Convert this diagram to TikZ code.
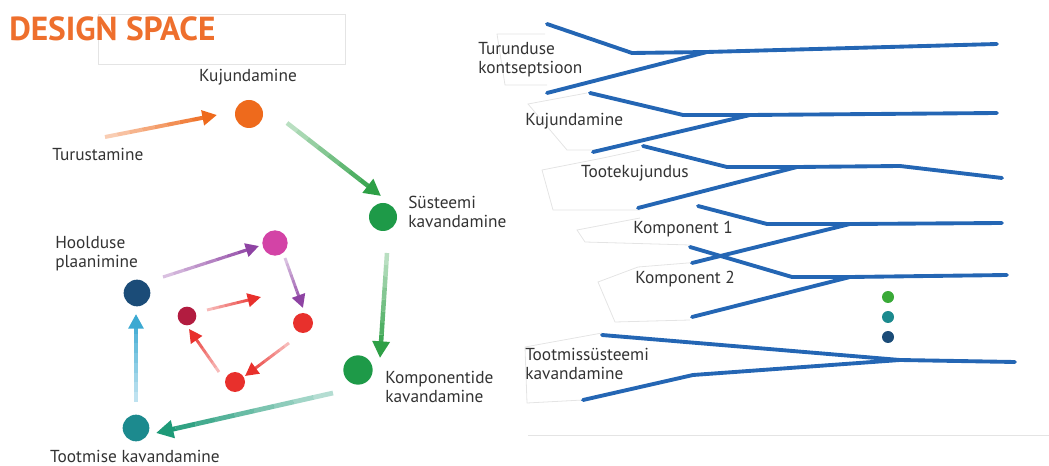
\documentclass[tikz,border=0pt]{standalone}
\usepackage{fontspec}
\setmainfont{PT Sans}
\usetikzlibrary{calc,arrows.meta}
\definecolor{txt}{HTML}{333333}
\definecolor{ttl}{HTML}{EE6F2D}
\definecolor{cOrange}{HTML}{EE6A1C}
\definecolor{cGreen}{HTML}{1E9A48}
\definecolor{aGreen}{HTML}{2EA046}
\definecolor{cTeal}{HTML}{1C8A8E}
\definecolor{aTeal}{HTML}{1E9A78}
\definecolor{aCyan}{HTML}{3BA9D2}
\definecolor{cNavy}{HTML}{1B4C78}
\definecolor{cMag}{HTML}{D343A6}
\definecolor{aPurp}{HTML}{8E43A3}
\definecolor{cRed}{HTML}{E8302C}
\definecolor{cDRed}{HTML}{B21C40}
\definecolor{lBlue}{HTML}{2466B4}
\definecolor{dGreen}{HTML}{3AAA38}
\definecolor{faint}{HTML}{E4E4E4}
\newcommand\fadearrow[5]{%
  \foreach \i in {0,...,7}{%
    \pgfmathsetmacro\sa{\i/9}\pgfmathsetmacro\sb{(\i+1)/9}\pgfmathsetmacro\op{0.25+0.75*(\i+1)/9}%
    \draw[#1, line width=#4, opacity=\op] ($(#2)!\sa!(#3)$) -- ($(#2)!\sb!(#3)$);
  }%
  \pgfmathsetmacro\sa{8/9}%
  \draw[#1, line width=#4, -{Triangle[length=#5,width=#5]}] ($(#2)!\sa!(#3)$) -- (#3);
}
\tikzset{
  lbl/.style={text=txt, font=\fontsize{13}{14.5}\selectfont, inner sep=0pt, align=left},
  ball/.style={circle, fill=#1, inner sep=0pt},
  branch/.style={lBlue, line width=2.9pt, line cap=round, line join=round},
  ghost/.style={faint, line width=0.6pt},
}
\begin{document}
\begin{tikzpicture}[x=0.75pt,y=-0.75pt]
\useasboundingbox (0,0) rectangle (1049,466);
% faint frames
\draw[ghost] (98,14) rectangle (345,64);
\draw[ghost] (528,435) -- (1049,435);
\draw[ghost] (545,34) -- (497,34) -- (505,85) -- (547,85);
\draw[ghost] (587,93) -- (528,104) -- (567,150) -- (600,150);
\draw[ghost] (640,150) -- (603,158) -- (542,170) -- (553,210) -- (640,210);
\draw[ghost] (640,218) -- (577,230) -- (585,242) -- (690,245);
\draw[ghost] (700,262) -- (638,267) -- (598,282) -- (615,322) -- (690,320);
\draw[ghost] (602,333) -- (525,347) -- (527,403) -- (583,400);

% title
\node[text=ttl, font=\fontsize{25}{27}\selectfont\bfseries, anchor=west, inner sep=0pt] (title) at (9,29) {DESIGN SPACE};

% ---- left cycle ----
\node[ball=cOrange, minimum size=21pt] (kuj) at (249,114) {};
\node[ball=cGreen, minimum size=21pt] (sys) at (383,217) {};
\node[ball=cGreen, minimum size=22pt] (komp) at (358,370) {};
\node[ball=cTeal, minimum size=20pt] (toot) at (136,428) {};
\node[ball=cNavy, minimum size=20pt] (hool) at (137,293) {};
\node[ball=cMag, minimum size=19pt] (mag) at (275,243) {};
\node[ball=cRed, minimum size=15pt] (r1) at (303,323) {};
\node[ball=cRed, minimum size=15pt] (r2) at (235,382) {};
\node[ball=cDRed, minimum size=14pt] (r3) at (187,316) {};

\node[lbl] (lkuj) at (248,77) {Kujundamine};
\node[lbl, anchor=west] (ltur) at (52,154) {Turustamine};
\node[lbl, anchor=west] (lsys) at (408,212) {Süsteemi\\kavandamine};
\node[lbl, anchor=west] (lkomp) at (385,387) {Komponentide\\kavandamine};
\node[lbl] (ltoot) at (135,456) {Tootmise kavandamine};
\node[lbl, anchor=west] (lhool) at (55,254) {Hoolduse\\plaanimine};

\coordinate (a1s) at (105,137); \coordinate (a1e) at (217,115);
\coordinate (a2s) at (287,123); \coordinate (a2e) at (381,196);
\coordinate (a3s) at (387,253); \coordinate (a3e) at (380,358);
\coordinate (a4s) at (333,393); \coordinate (a4e) at (156,433);
\coordinate (a5s) at (136,402); \coordinate (a5e) at (136,314);
\coordinate (a6s) at (163,277); \coordinate (a6e) at (259,246);
\coordinate (a7s) at (285,258); \coordinate (a7e) at (303,308);
\coordinate (a8s) at (289,343); \coordinate (a8e) at (245,376);
\coordinate (a9s) at (219,372); \coordinate (a9e) at (189,329);
\coordinate (a10s) at (207,310); \coordinate (a10e) at (261,297);

\fadearrow{cOrange}{a1s}{a1e}{3pt}{11pt}
\fadearrow{aGreen}{a2s}{a2e}{3.4pt}{12.5pt}
\fadearrow{aGreen}{a3s}{a3e}{3.4pt}{12.5pt}
\fadearrow{aTeal}{a4s}{a4e}{3.6pt}{13pt}
\fadearrow{aCyan}{a5s}{a5e}{2.8pt}{11pt}
\fadearrow{aPurp}{a6s}{a6e}{2.4pt}{10pt}
\fadearrow{aPurp}{a7s}{a7e}{2.2pt}{10pt}
\fadearrow{cRed}{a8s}{a8e}{2.2pt}{10pt}
\fadearrow{cRed}{a9s}{a9e}{2.2pt}{10pt}
\fadearrow{cRed}{a10s}{a10e}{2.2pt}{10pt}

% ---- right: branching lines ----
\coordinate (g1a) at (547,24); \coordinate (g1b) at (632,53); \coordinate (g1m) at (707,52); \coordinate (g1e) at (997,44); \coordinate (g1c) at (547,93);
\draw[branch] (g1a) -- (g1b) -- (g1m) -- (g1e);
\draw[branch] (g1c) -- (g1m);
\coordinate (g2a) at (590,93); \coordinate (g2b) at (683,115); \coordinate (g2m) at (750,115); \coordinate (g2e) at (997,113); \coordinate (g2c) at (593,152);
\draw[branch] (g2a) -- (g2b) -- (g2m) -- (g2e);
\draw[branch] (g2c) -- (g2m);
\coordinate (g3a) at (643,146); \coordinate (g3b) at (727,167); \coordinate (g3m) at (797,167); \coordinate (g3k) at (900,166); \coordinate (g3e) at (1002,178); \coordinate (g3c) at (638,208);
\draw[branch] (g3a) -- (g3b) -- (g3m) -- (g3k) -- (g3e);
\draw[branch] (g3c) -- (g3m);
\coordinate (g4a) at (698,206); \coordinate (g4b) at (767,224); \coordinate (g4m) at (850,224); \coordinate (g4e) at (1002,223); \coordinate (g4c) at (692,263);
\draw[branch] (g4a) -- (g4b) -- (g4m) -- (g4e);
\draw[branch] (g4c) -- (g4m);
\coordinate (g5a) at (690,247); \coordinate (g5b) at (792,277); \coordinate (g5m) at (850,277); \coordinate (g5e) at (1007,275); \coordinate (g5c) at (692,317);
\draw[branch] (g5a) -- (g5b) -- (g5m) -- (g5e);
\draw[branch] (g5c) -- (g5m);
\coordinate (g6a) at (602,335); \coordinate (g6m) at (900,360); \coordinate (g6e) at (1015,362); \coordinate (g6c) at (583,400); \coordinate (g6k) at (693,375);
\draw[branch] (g6a) -- (g6m) -- (g6e);
\draw[branch] (g6c) -- (g6k) -- (g6m);

\node[ball=dGreen, minimum size=9pt] (d1) at (888,297) {};
\node[ball=cTeal, minimum size=9pt] (d2) at (888,317) {};
\node[ball=cNavy, minimum size=9pt] (d3) at (888,337) {};

\node[lbl, anchor=west] (rt1) at (478,60) {Turunduse\\kontseptsioon};
\node[lbl, anchor=west] (rt2) at (525,121) {Kujundamine};
\node[lbl] (rt3) at (635,173) {Tootekujundus};
\node[lbl] (rt4) at (683,229) {Komponent 1};
\node[lbl] (rt5) at (685,279) {Komponent 2};
\node[lbl, anchor=west] (rt6) at (525,364) {Tootmissüsteemi\\kavandamine};
\end{tikzpicture}
\end{document}
